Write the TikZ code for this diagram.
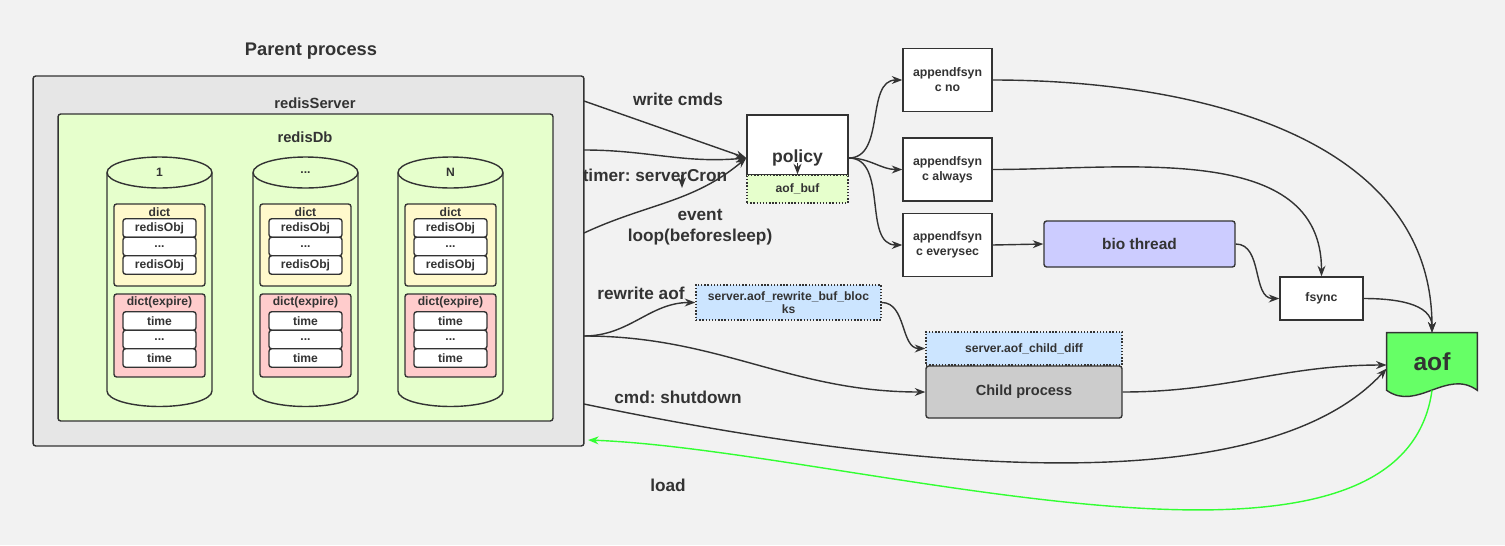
\documentclass[tikz,border=0pt]{standalone}
\usepackage{fontspec}
\setmainfont{Liberation Sans}
\usetikzlibrary{arrows.meta,positioning}
\frenchspacing

\definecolor{bgcol}{HTML}{F2F2F2}
\definecolor{linecol}{HTML}{333333}
\definecolor{servercol}{HTML}{E6E6E6}
\definecolor{dbcol}{HTML}{E6FFCC}
\definecolor{dictcol}{HTML}{FFF9CC}
\definecolor{expirecol}{HTML}{FFCCCC}
\definecolor{bufcol}{HTML}{CCE5FF}
\definecolor{biocol}{HTML}{CCCCFF}
\definecolor{childcol}{HTML}{CCCCCC}
\definecolor{aofcol}{HTML}{66FF66}
\definecolor{loadcol}{HTML}{33FF33}

\newcommand\dbdots{...}

\tikzset{
  conn/.style={draw=linecol, line width=0.8pt, -{Stealth[length=6pt,width=4.5pt]}},
  loadconn/.style={draw=loadcol, line width=0.8pt, -{Stealth[length=6pt,width=4.5pt]}},
  plainbox/.style={draw=linecol, line width=0.8pt, fill=white, text=linecol, align=center,
    inner sep=0pt, font=\bfseries\fontsize{7}{8.5}\selectfont},
  roundbox/.style={plainbox, rounded corners=1.5pt},
  bufbox/.style={plainbox, densely dotted, fill=bufcol, font=\bfseries\fontsize{6.9}{7.6}\selectfont},
  rowbox/.style={roundbox, minimum width=1.46cm, minimum height=0.37cm, font=\bfseries\fontsize{6.9}{7}\selectfont},
  edgelbl/.style={text=linecol, inner sep=1pt, font=\bfseries\fontsize{9.8}{12}\selectfont},
  smalllbl/.style={text=linecol, inner sep=0pt, font=\bfseries\fontsize{6.9}{8}\selectfont},
}

\begin{document}
\begin{tikzpicture}[x=0.02cm, y=0.02cm]
   \fill[bgcol] (0,0) rectangle (1505,-545);
   \useasboundingbox (0,0) rectangle (1505,-545);

   % parent process
   \node[roundbox, fill=servercol, minimum width=11.02cm, minimum height=7.4cm] (parent) at (308.5,-261) {};
   \node[edgelbl, font=\bfseries\fontsize{10.4}{12}\selectfont] (parentlbl) at (311,-51) {Parent process};
   \node[smalllbl, font=\bfseries\fontsize{8.4}{9}\selectfont] (serverlbl) at (315,-103) {redisServer};
   \node[roundbox, fill=dbcol, minimum width=9.9cm, minimum height=6.14cm] (db) at (305.5,-267.5) {};
   \node[smalllbl, font=\bfseries\fontsize{8.4}{9}\selectfont] (dblbl) at (305,-137) {redisDb};

   % databases
   \foreach \cx/\lab/\nm in {159.5/1/a, 305.5/\dbdots/b, 450.5/N/c} {
      \draw[line width=0.8pt, draw=linecol, fill=dbcol] (\cx-52.5,-172.5) -- (\cx-52.5,-391)
         arc[start angle=180, end angle=360, x radius=1.05cm, y radius=0.31cm] -- (\cx+52.5,-172.5);
      \draw[line width=0.8pt, draw=linecol, fill=dbcol] (\cx,-172.5) ellipse [x radius=1.05cm, y radius=0.31cm];
      \node[smalllbl] (db\nm) at (\cx,-172.5) {\lab};
      \node[roundbox, fill=dictcol, minimum width=1.82cm, minimum height=1.64cm] (dict\nm) at (\cx,-245) {};
      \node[smalllbl] (dictlbl\nm) at (\cx,-212) {dict};
      \node[rowbox] (obj\nm1) at (\cx,-228) {redisObj};
      \node[rowbox] (obj\nm2) at (\cx,-246.5) {...};
      \node[rowbox] (obj\nm3) at (\cx,-265) {redisObj};
      \node[roundbox, fill=expirecol, minimum width=1.82cm, minimum height=1.66cm] (exp\nm) at (\cx,-335.5) {};
      \node[smalllbl] (explbl\nm) at (\cx,-302) {dict(expire)};
      \node[rowbox] (time\nm1) at (\cx,-321) {time};
      \node[rowbox] (time\nm2) at (\cx,-339.5) {...};
      \node[rowbox] (time\nm3) at (\cx,-358) {time};
   }

   % policy
   \node[plainbox, minimum width=2.02cm, minimum height=1.2cm] (policy) at (797.5,-145) {};
   \node[text=linecol, inner sep=0pt, font=\bfseries\fontsize{10}{12}\selectfont] (policytxt) at (797.5,-158) {policy};
   \node[bufbox, fill=dbcol, minimum width=2.02cm, minimum height=0.56cm] (aofbuf) at (797.5,-189) {aof\_buf};
   \coordinate (policydn) at (797.5,-163);
   \draw[conn] (policydn) -- (aofbuf.north);

   \node[plainbox, minimum width=1.78cm, minimum height=1.26cm] (fsno) at (947.5,-80) {appendfsyn\\c no};
   \node[plainbox, minimum width=1.78cm, minimum height=1.26cm] (fsalways) at (947.5,-169.5) {appendfsyn\\c always};
   \node[plainbox, minimum width=1.78cm, minimum height=1.26cm] (fsevery) at (947.5,-245) {appendfsyn\\c everysec};
   \node[roundbox, fill=biocol, minimum width=3.82cm, minimum height=0.92cm, font=\bfseries\fontsize{8.8}{10}\selectfont] (bio) at (1139.5,-244) {bio thread};
   \node[plainbox, minimum width=1.66cm, minimum height=0.86cm] (fsync) at (1321.5,-298.5) {fsync};

   % aof file
   \node[minimum width=1.8cm, minimum height=1.14cm, inner sep=0pt] (aof) at (1432,-361.5) {};
   \draw[line width=0.8pt, draw=linecol, fill=aofcol] (aof.south west) -- (aof.north west) -- (aof.north east)
      -- (aof.south east) .. controls (1447,-368) and (1417,-412) .. (aof.south west) -- cycle;
   \node[text=linecol, font=\bfseries\fontsize{14}{16}\selectfont] (aoftxt) at (1432,-362) {aof};

   % rewrite
   \node[bufbox, minimum width=3.7cm, minimum height=0.7cm] (rwbuf) at (788.5,-302.5) {server.aof\_rewrite\_buf\_bloc\\ks};
   \node[bufbox, minimum width=3.92cm, minimum height=0.66cm] (childdiff) at (1024,-348.5) {server.aof\_child\_diff};
   \node[roundbox, fill=childcol, minimum width=3.92cm, minimum height=1.04cm, font=\bfseries\fontsize{8.3}{9}\selectfont] (child) at (1024,-392) {Child process};

   % points on the parent box
   \coordinate (wout) at (584,-101);
   \coordinate (cronout) at (584,-150);
   \coordinate (loopout) at (584,-233);
   \coordinate (rwout) at (584,-336);
   \coordinate (downout) at (584,-404);
   \coordinate (loadin) at (588,-440);
   \coordinate (cronA) at (682,-175);
   \coordinate (cronB) at (682,-188);

   \draw[conn] (wout) -- (policy.west |- policytxt);
   \draw[conn] (cronout) to[out=0, in=185] (policy.west |- policytxt);
   \draw[conn] (loopout) to[out=25, in=220] (policy.west |- policytxt);
   \draw[conn] (cronA) -- (cronB);
   \draw[conn] (policy.east |- policytxt) to[out=0, in=180] (fsno.west);
   \draw[conn] (policy.east |- policytxt) to[out=0, in=180] (fsalways.west);
   \draw[conn] (policy.east |- policytxt) to[out=0, in=180] (fsevery.west);
   \draw[conn] (fsno.east) to[out=0, in=90] (aof.north);
   \draw[conn] (fsalways.east) to[out=0, in=90] (fsync.north);
   \draw[conn] (fsevery.east) -- (bio.west);
   \draw[conn] (bio.east) to[out=0, in=180] (fsync.west);
   \draw[conn] (fsync.east) to[out=0, in=90] (aof.north);
   \draw[conn] (rwout) to[out=0, in=180] (rwbuf.west);
   \draw[conn] (rwout) to[out=0, in=180] (child.west);
   \draw[conn] (rwbuf.east) to[out=0, in=180] (childdiff.west);
   \draw[conn] (child.east) to[out=0, in=180] ([yshift=-2pt]aof.west);
   \draw[conn] (downout) .. controls (950,-480) and (1270,-495) .. ([yshift=-4pt]aof.west);
   \draw[loadconn] (aof.south) .. controls (1400,-620) and (850,-450) .. (loadin);

   % edge labels
   \node[edgelbl] (wlbl) at (678,-99) {write cmds};
   \node[edgelbl] (cronlbl) at (655,-175) {timer: serverCron};
   \node[edgelbl, align=center] (looplbl) at (700,-227.5) {event\\loop(beforesleep)};
   \node[edgelbl] (rwlbl) at (641,-293) {rewrite aof};
   \node[edgelbl] (downlbl) at (678,-397) {cmd: shutdown};
   \node[edgelbl] (loadlbl) at (668,-485) {load};
\end{tikzpicture}
\end{document}
